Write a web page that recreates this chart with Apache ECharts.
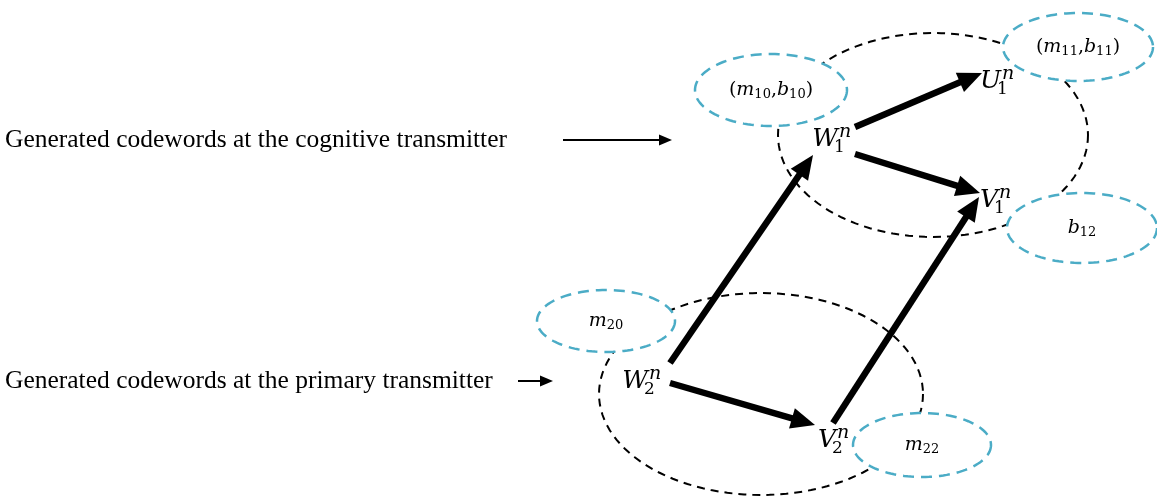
<!DOCTYPE html>
<html>
<head>
<meta charset="utf-8">
<title>codewords</title>
<script src="https://cdn.jsdelivr.net/npm/echarts@6/dist/echarts.min.js"></script>
<style>
  html, body { margin: 0; padding: 0; background: #fff; }
  #main { width: 1157px; height: 498px; }
</style>
</head>
<body>
<div id="main"></div>
<script>
  // codeword groups (black dashed blobs): centre and radii, in picture units
  const groupCenters = [[933, 135], [761, 394]]
  const groupRadii = [[155, 102], [162, 101]]

  // index sets (blue dashed ellipses)
  const indexCenters = [[771, 90], [1078, 47], [1082, 228], [606, 321], [922, 445]]
  const indexRadii = [[76, 36], [75, 34], [75, 35], [69, 31], [69, 32]]
  const indexLabels = [
    [['m', '10'], ['b', '10']],
    [['m', '11'], ['b', '11']],
    [['b', '12']],
    [['m', '20']],
    [['m', '22']]
  ]

  // codewords W_1^n, U_1^n ... (anchor = right edge of the base letter)
  const codewordNames = ['W', 'U', 'V', 'W', 'V']
  const codewordSubs = ['1', '1', '1', '2', '2']
  const codewordSups = ['n', 'n', 'n', 'n', 'n']
  const codewordAnchors = [[838, 139], [1001, 81], [998, 200], [648, 381], [836, 440]]

  // superposition arrows (from, to)
  const arrowFrom = [[670, 363], [670, 383], [855, 127], [855, 154], [833, 423]]
  const arrowTo = [[813, 155], [815, 425], [982, 73], [980, 193], [979, 197]]

  // captions on the left and their pointers
  const captions = ['Generated codewords at the cognitive transmitter', 'Generated codewords at the primary transmitter']
  const captionPos = [[5, 140], [5, 381]]
  const pointerFrom = [[563, 140], [518, 381]]
  const pointerTo = [[672, 140], [553, 381]]

  const mathFont = 'DejaVu Serif'
  const textFont = 'Liberation Serif'

  function ellipsePoints(c, r) {
    let pts = []
    for (let i = 0; i < 120; i++) {
      let t = i / 120 * Math.PI * 2
      pts.push([c[0] + r[0] * Math.cos(t), c[1] + r[1] * Math.sin(t)])
    }
    return pts
  }

  function arrowShape(p1, p2, width, headLen, headW, color) {
    let dx = p2[0] - p1[0]
    let dy = p2[1] - p1[1]
    let len = Math.sqrt(dx * dx + dy * dy)
    let ux = dx / len, uy = dy / len
    let nx = -uy, ny = ux
    let bx = p2[0] - ux * headLen
    let by = p2[1] - uy * headLen
    return {
      type: 'group',
      children: [
        {
          type: 'line',
          shape: {x1: p1[0], y1: p1[1], x2: bx + ux * 2, y2: by + uy * 2},
          style: {stroke: color, lineWidth: width}
        },
        {
          type: 'polygon',
          shape: {points: [[p2[0], p2[1]], [bx + nx * headW / 2, by + ny * headW / 2], [bx - nx * headW / 2, by - ny * headW / 2]]},
          style: {fill: color}
        }
      ]
    }
  }

  function indexText(pairs) {
    let s = pairs.map(p => `{it|${p[0]}}{sub|${p[1]}}`).join('{rm|,}')
    if (pairs.length > 1) s = '{rm|(}' + s + '{rm|)}'
    return s
  }

  const chart = echarts.init(document.getElementById('main'))

  chart.setOption({
    animation: false,
    backgroundColor: '#fff',
    grid: {left: 0, right: 0, top: 0, bottom: 0},
    xAxis: {type: 'value', min: 0, max: 1157, show: false},
    yAxis: {type: 'value', min: 0, max: 498, inverse: true, show: false},
    series: [
      {
        // black dashed groups
        type: 'custom',
        z: 1,
        data: groupCenters.map((c, i) => [c[0], c[1], groupRadii[i][0], groupRadii[i][1]]),
        renderItem(params, api) {
          let c = api.coord([api.value(0), api.value(1)])
          let r = api.size([api.value(2), api.value(3)])
          return {
            type: 'polygon',
            shape: {points: ellipsePoints(c, r)},
            style: {fill: 'none', stroke: '#000', lineWidth: 2, lineDash: [8, 6]}
          }
        }
      },
      {
        // thick arrows
        type: 'custom',
        z: 2,
        data: arrowFrom.map((p, i) => [p[0], p[1], arrowTo[i][0], arrowTo[i][1]]),
        renderItem(params, api) {
          let p1 = api.coord([api.value(0), api.value(1)])
          let p2 = api.coord([api.value(2), api.value(3)])
          return arrowShape(p1, p2, 6.5, 24, 21, '#000')
        }
      },
      {
        // blue index ellipses with labels
        type: 'custom',
        z: 3,
        data: indexCenters.map((c, i) => [c[0], c[1], indexRadii[i][0], indexRadii[i][1]]),
        renderItem(params, api) {
          let c = api.coord([api.value(0), api.value(1)])
          let r = api.size([api.value(2), api.value(3)])
          return {
            type: 'group',
            children: [
              {
                type: 'polygon',
                shape: {points: ellipsePoints(c, r)},
                style: {fill: '#fff', stroke: '#4bacc6', lineWidth: 2.5, lineDash: [11, 7]}
              },
              {
                type: 'text',
                x: c[0],
                y: c[1],
                style: {
                  text: indexText(indexLabels[params.dataIndex]),
                  align: 'center',
                  verticalAlign: 'middle',
                  rich: {
                    it: {fontFamily: mathFont, fontStyle: 'italic', fontSize: 19, fill: '#000'},
                    rm: {fontFamily: mathFont, fontSize: 19, fill: '#000'},
                    sub: {fontFamily: mathFont, fontSize: 13, fill: '#000', padding: [10, 0, 0, 0]}
                  }
                }
              }
            ]
          }
        }
      },
      {
        // codeword labels
        type: 'custom',
        z: 4,
        data: codewordAnchors,
        renderItem(params, api) {
          let p = api.coord([api.value(0), api.value(1)])
          let i = params.dataIndex
          return {
            type: 'group',
            children: [
              {
                type: 'text', x: p[0], y: p[1],
                style: {text: codewordNames[i], align: 'right', verticalAlign: 'middle', fontFamily: mathFont, fontStyle: 'italic', fontSize: 25, fill: '#000'}
              },
              {
                type: 'text', x: p[0] + 1, y: p[1] - 7,
                style: {text: codewordSups[i], align: 'left', verticalAlign: 'middle', fontFamily: mathFont, fontStyle: 'italic', fontSize: 19, fill: '#000'}
              },
              {
                type: 'text', x: p[0] - 4, y: p[1] + 9,
                style: {text: codewordSubs[i], align: 'left', verticalAlign: 'middle', fontFamily: mathFont, fontSize: 17, fill: '#000'}
              }
            ]
          }
        }
      },
      {
        // captions
        type: 'custom',
        z: 4,
        data: captionPos,
        renderItem(params, api) {
          let p = api.coord([api.value(0), api.value(1)])
          return {
            type: 'text', x: p[0], y: p[1],
            style: {text: captions[params.dataIndex], align: 'left', verticalAlign: 'middle', fontFamily: textFont, fontSize: 25.5, fill: '#000'}
          }
        }
      },
      {
        // caption pointers
        type: 'custom',
        z: 4,
        data: pointerFrom.map((p, i) => [p[0], p[1], pointerTo[i][0], pointerTo[i][1]]),
        renderItem(params, api) {
          let p1 = api.coord([api.value(0), api.value(1)])
          let p2 = api.coord([api.value(2), api.value(3)])
          return arrowShape(p1, p2, 2, 13, 11, '#000')
        }
      }
    ]
  })
</script>
</body>
</html>
